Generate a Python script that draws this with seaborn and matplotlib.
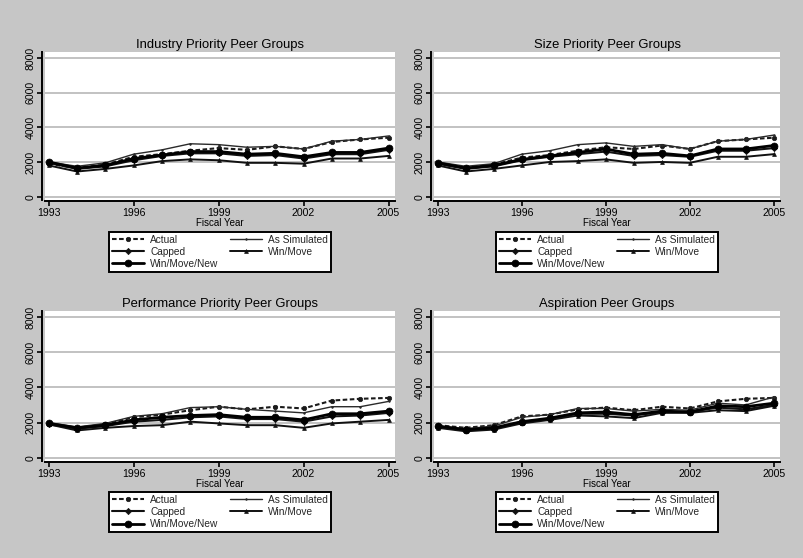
import matplotlib
matplotlib.use('Agg')
import matplotlib.pyplot as plt
import seaborn as sns
import numpy as np

# Fiscal years shared by all panels
years = list(range(1993, 2006))

panel_titles = [
    "Industry Priority Peer Groups",
    "Size Priority Peer Groups",
    "Performance Priority Peer Groups",
    "Aspiration Peer Groups",
]

# values, one list per series per panel
actual = [
    [1900, 1650, 1850, 2300, 2450, 2650, 2800, 2700, 2900, 2750, 3150, 3300, 3400],
    [1900, 1650, 1850, 2250, 2400, 2650, 2850, 2750, 2950, 2750, 3200, 3300, 3400],
    [1950, 1700, 1900, 2300, 2450, 2700, 2900, 2750, 2900, 2800, 3250, 3350, 3400],
    [1850, 1700, 1850, 2350, 2450, 2750, 2850, 2700, 2900, 2800, 3200, 3350, 3400],
]
as_simulated = [
    [2000, 1750, 1950, 2450, 2700, 3050, 3000, 2850, 2900, 2750, 3200, 3300, 3500],
    [2000, 1750, 1900, 2450, 2650, 3000, 3100, 2900, 3000, 2750, 3200, 3300, 3550],
    [2000, 1750, 1950, 2350, 2500, 2850, 2900, 2750, 2650, 2550, 2900, 2900, 3200],
    [1800, 1650, 1800, 2300, 2450, 2800, 2800, 2650, 2750, 2700, 3100, 3000, 3450],
]
capped = [
    [1950, 1600, 1750, 2100, 2350, 2500, 2500, 2350, 2400, 2200, 2450, 2450, 2700],
    [1900, 1600, 1750, 2100, 2300, 2450, 2600, 2350, 2400, 2300, 2650, 2650, 2800],
    [1900, 1650, 1800, 2050, 2150, 2300, 2350, 2200, 2200, 2050, 2350, 2400, 2550],
    [1750, 1550, 1650, 2050, 2200, 2500, 2500, 2400, 2600, 2600, 2850, 2750, 3000],
]
win_move = [
    [1800, 1450, 1600, 1800, 2050, 2150, 2100, 1950, 1950, 1900, 2200, 2200, 2350],
    [1800, 1450, 1600, 1800, 2000, 2050, 2150, 1950, 2000, 1950, 2300, 2300, 2450],
    [1900, 1550, 1700, 1800, 1850, 2050, 1950, 1850, 1850, 1700, 1950, 2050, 2150],
    [1700, 1500, 1600, 1950, 2150, 2400, 2350, 2250, 2550, 2550, 2700, 2650, 2950],
]
win_move_new = [
    [2000, 1650, 1800, 2200, 2400, 2600, 2600, 2450, 2500, 2300, 2550, 2550, 2800],
    [1950, 1650, 1800, 2150, 2350, 2550, 2750, 2450, 2500, 2350, 2750, 2750, 2950],
    [1950, 1700, 1850, 2150, 2300, 2400, 2450, 2300, 2300, 2150, 2500, 2500, 2650],
    [1800, 1600, 1700, 2050, 2250, 2550, 2600, 2450, 2650, 2600, 2950, 2900, 3100],
]

x_ticks = [1993, 1996, 1999, 2002, 2005]
y_ticks = [0, 2000, 4000, 6000, 8000]

sns.set_theme(style="white")
plt.rcParams['font.family'] = ['Liberation Sans', 'DejaVu Sans']

bg = '#c6c6c6'
fig = plt.figure(figsize=(8.04, 5.58), dpi=100, facecolor=bg)

# axes boxes [left, bottom, width, height]
boxes = [
    [0.056, 0.642, 0.435, 0.265],
    [0.540, 0.642, 0.430, 0.265],
    [0.056, 0.174, 0.435, 0.269],
    [0.540, 0.174, 0.430, 0.269],
]

for i, box in enumerate(boxes):
    ax = fig.add_axes(box)
    ax.set_facecolor('white')

    # style per series
    series = [
        ("Actual", actual[i], dict(ls=(0, (2.2, 1.2)), lw=1.5, marker='o', ms=3.2, color='#1a1a1a')),
        ("As Simulated", as_simulated[i], dict(ls='-', lw=1.0, marker='o', ms=1.2, color='#2a2a2a')),
        ("Capped", capped[i], dict(ls='-', lw=1.5, marker='D', ms=3.2, color='#111111')),
        ("Win/Move", win_move[i], dict(ls='-', lw=1.4, marker='^', ms=2.8, color='#111111')),
        ("Win/Move/New", win_move_new[i], dict(ls='-', lw=2.0, marker='o', ms=5.0, color='#000000')),
    ]
    for name, vals, st in series:
        sns.lineplot(x=years, y=vals, ax=ax, label=name,
                     markeredgecolor=st['color'], markerfacecolor=st['color'],
                     markeredgewidth=0.5, **st)

    ax.set_xlim(1992.87, 2005.22)
    ax.set_ylim(-180, 8350)
    ax.set_xticks(x_ticks)
    ax.set_yticks(y_ticks)
    ax.grid(axis='y', color='#bdbdbd', lw=1.3)
    ax.grid(axis='x', visible=False)
    ax.set_axisbelow(True)

    for s in ['top', 'right']:
        ax.spines[s].set_visible(False)
    for s in ['left', 'bottom']:
        ax.spines[s].set_color('black')
        ax.spines[s].set_linewidth(1.4)
    ax.spines['left'].set_position(('outward', 2))
    ax.spines['bottom'].set_position(('outward', 1))
    ax.tick_params(axis='both', direction='out', length=3.5, width=1.2,
                   colors='black', labelsize=7.6, pad=1.5)
    ax.tick_params(left=True, bottom=True)
    ax.tick_params(axis='y', labelrotation=90)
    for lab in ax.get_yticklabels():
        lab.set_va('center')

    ax.set_title(panel_titles[i], fontsize=9.4, pad=3, color='black')
    ax.set_xlabel("Fiscal Year", fontsize=7, labelpad=0, color='black')
    ax.set_ylabel("")

    handles, labels = ax.get_legend_handles_labels()
    order = [0, 2, 4, 1, 3]
    anchor_y = -0.215 if i < 2 else -0.207
    leg = ax.legend([handles[k] for k in order], [labels[k] for k in order],
                    ncol=2, loc='upper center', bbox_to_anchor=(0.5, anchor_y),
                    fontsize=7.3, frameon=True, fancybox=False, numpoints=1,
                    handlelength=3.2, handletextpad=0.6, columnspacing=1.1,
                    labelspacing=0.2, borderpad=0.3, borderaxespad=0)
    leg.get_frame().set_edgecolor('black')
    leg.get_frame().set_linewidth(1.4)
    leg.get_frame().set_facecolor('white')
    leg.get_frame().set_alpha(1)

plt.savefig('out.png', dpi=100, facecolor=bg)
plt.close()
